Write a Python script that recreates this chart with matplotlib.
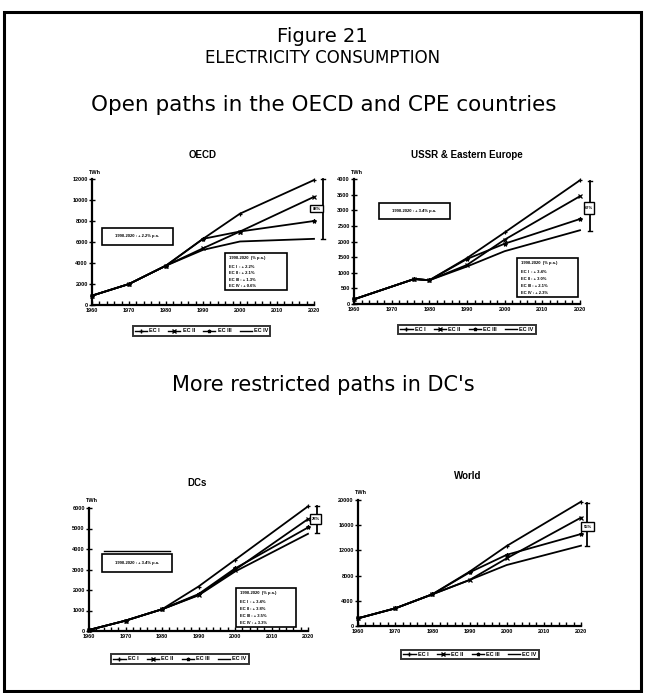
import matplotlib
matplotlib.use("Agg")
import matplotlib.pyplot as plt
from matplotlib.patches import Rectangle
from matplotlib.lines import Line2D

plt.rcParams['font.family'] = ['Liberation Sans', 'DejaVu Sans']

W, H = 646, 693
fig = plt.figure(figsize=(W / 100, H / 100), dpi=100)

# ---------------- data ----------------
series_names = ["EC I", "EC II", "EC III", "EC IV"]
hist_years = [1960, 1970, 1980]
proj_years = [1990, 2000, 2020]

oecd_hist = [890, 2000, 3750]
oecd_proj = {"EC I": [6300, 8700, 11900], "EC II": [5400, 7000, 10300],
             "EC III": [6300, 7000, 8000], "EC IV": [5250, 6050, 6300]}

ussr_hist_years = [1960, 1976, 1980]
ussr_hist = [150, 800, 760]
ussr_proj = {"EC I": [1470, 2290, 3960], "EC II": [1250, 2060, 3450],
             "EC III": [1440, 1930, 2720], "EC IV": [1200, 1690, 2360]}

dcs_hist = [50, 505, 1060]
dcs_proj = {"EC I": [2170, 3470, 6080], "EC II": [1760, 2980, 5460],
            "EC III": [1800, 3050, 5050], "EC IV": [1740, 2900, 4740]}

world_hist = [1220, 2800, 5030]
world_proj = {"EC I": [8620, 12700, 19730], "EC II": [7300, 10740, 17200],
              "EC III": [8500, 11300, 14600], "EC IV": [7300, 9680, 12750]}

x_ticks = [1960, 1970, 1980, 1990, 2000, 2010, 2020]

markers = {"EC I": "+", "EC II": "x", "EC III": "*", "EC IV": ""}

HEAD = ['DejaVu Sans']


def fx(x):
    return x / W


def fy(y):
    return 1 - y / H


def add_ax(l, r, t, b):
    return fig.add_axes([fx(l), fy(b), (r - l) / W, (b - t) / H])


def draw_panel(l, r, t, b, title, title_xy, hist_x, hist_y, proj, ymax, ystep,
               legend_box):
    ax = add_ax(l, r, t, b)
    for name in series_names:
        xs = hist_x + proj_years
        ys = hist_y + proj[name]
        ax.plot(xs, ys, color="black", lw=1.3, marker=markers[name], ms=3,
                mew=0.9, clip_on=False)
    ax.set_xlim(1960, 2020)
    ax.set_ylim(0, ymax)
    ax.set_xticks(x_ticks)
    ax.set_xticks(list(range(1962, 2020, 2)), minor=True)
    ax.set_yticks(list(range(0, ymax + 1, ystep)))
    ax.set_xticklabels([str(v) for v in x_ticks], fontsize=4, fontweight="bold")
    ax.set_yticklabels([str(v) for v in range(0, ymax + 1, ystep)], fontsize=4,
                       fontweight="bold")
    ax.tick_params(axis="x", which="both", direction="in", length=3, width=1,
                   pad=2)
    ax.tick_params(axis="y", direction="inout", length=4, width=1, pad=1)
    for s in ["top", "right"]:
        ax.spines[s].set_visible(False)
    for s in ["left", "bottom"]:
        ax.spines[s].set_linewidth(1.6)
    ax.patch.set_alpha(0)
    fig.text(fx(title_xy[0]), fy(title_xy[1]), title, fontsize=7,
             fontweight="bold", ha="center", va="center")
    fig.text(fx(l + 3), fy(t - 7), "TWh", fontsize=4, fontweight="bold",
             ha="center", va="center")
    # legend
    handles = [Line2D([], [], color="black", lw=1, marker=markers[n], ms=2.5)
               for n in series_names]
    lx0, ly0, lx1, ly1 = legend_box
    leg = fig.legend(handles, series_names, ncol=4, fontsize=4,
                     loc="center",
                     bbox_to_anchor=(fx((lx0 + lx1) / 2), fy((ly0 + ly1) / 2)),
                     frameon=True, fancybox=False, edgecolor="black",
                     handlelength=2.2, columnspacing=1.5, borderpad=0.4,
                     handletextpad=0.4, prop={"weight": "bold", "size": 4})
    leg.get_frame().set_linewidth(1.4)
    return ax


def box(x0, y0, x1, y1, lw=1.2, fc="white"):
    fig.patches.append(Rectangle((fx(x0), fy(y1)), (x1 - x0) / W, (y1 - y0) / H,
                                 transform=fig.transFigure, fill=True, fc=fc,
                                 ec="black", lw=lw, zorder=5))


def bracket(x, y0, y1, bx0, bx1, by0, by1, label):
    fig.add_artist(Line2D([fx(x), fx(x)], [fy(y0), fy(y1)], color="black",
                          lw=1.3, transform=fig.transFigure))
    for yy in (y0, y1):
        fig.add_artist(Line2D([fx(x - 2), fx(x + 2)], [fy(yy), fy(yy)],
                              color="black", lw=1.0, transform=fig.transFigure))
    box(bx0, by0, bx1, by1, lw=1.0)
    fig.text(fx((bx0 + bx1) / 2), fy((by0 + by1) / 2), label, fontsize=3,
             fontweight="bold", ha="center", va="center", zorder=6)


def rate_box(x0, y0, x1, y1, header, lines):
    box(x0, y0, x1, y1)
    fig.text(fx(x0 + 4), fy(y0 + 5), header, fontsize=3, fontweight="bold",
             ha="left", va="center", zorder=6)
    n = len(lines)
    for i, s in enumerate(lines):
        yy = y0 + 14 + i * (y1 - y0 - 18) / max(n - 1, 1)
        fig.text(fx(x0 + 4), fy(yy), s, fontsize=3, fontweight="bold",
                 ha="left", va="center", zorder=6)


# ---------------- outer frame and headings ----------------
fig.add_artist(Rectangle((fx(4), fy(691)), (641 - 4) / W, (691 - 12) / H,
                         transform=fig.transFigure, fill=False, ec="black",
                         lw=2.2))
fig.text(fx(322), fy(36), "Figure 21", fontsize=14, ha="center", va="center",
         family=HEAD)
fig.text(fx(323), fy(58), "ELECTRICITY CONSUMPTION", fontsize=12, ha="center",
         va="center", family=HEAD)
fig.text(fx(324), fy(105), "Open paths in the OECD and CPE countries",
         fontsize=15.5, ha="center", va="center", family=HEAD)
fig.text(fx(323), fy(385), "More restricted paths in DC's", fontsize=15,
         ha="center", va="center", family=HEAD)

# ---------------- panels ----------------
draw_panel(92, 314, 179, 305, "OECD", (203, 155), hist_years, oecd_hist,
           oecd_proj, 12000, 2000, (128, 324, 275, 338))
box(102, 228, 173, 245)
fig.text(fx(137), fy(236.5), "1990-2020 : + 2.2% p.a.", fontsize=3,
         fontweight="bold", ha="center", va="center", zorder=6)
rate_box(225, 253, 287, 290, "1990-2020  (% p.a.)",
         ["EC I  : + 2.2%", "EC II : + 2.1%", "EC III : + 1.3%", "EC IV : + 0.6%"])
bracket(323, 179, 239, 310, 323, 205, 212, "88%")

draw_panel(354, 580, 179, 304, "USSR & Eastern Europe", (467, 155),
           ussr_hist_years, ussr_hist, ussr_proj, 4000, 500,
           (393, 322, 541, 337))
box(379, 203, 450, 219)
fig.text(fx(414.5), fy(211), "1990-2020 : + 3.4% p.a.", fontsize=3,
         fontweight="bold", ha="center", va="center", zorder=6)
rate_box(517, 258, 578, 297, "1990-2020  (% p.a.)",
         ["EC I  : + 3.4%", "EC II : + 3.0%", "EC III : + 2.1%", "EC IV : + 2.3%"])
bracket(590, 181, 231, 584, 594, 202, 214, "67%")

draw_panel(89, 308, 508, 631, "DCs", (197, 483), hist_years, dcs_hist,
           dcs_proj, 6000, 1000, (95, 652, 265, 666))
box(102, 554, 172, 572)
fig.add_artist(Line2D([fx(104), fx(170)], [fy(551), fy(551)], color="black",
                      lw=1.0, transform=fig.transFigure))
fig.text(fx(137), fy(563), "1990-2020 : + 3.4% p.a.", fontsize=3,
         fontweight="bold", ha="center", va="center", zorder=6)
rate_box(236, 588, 296, 627, "1990-2020  (% p.a.)",
         ["EC I  : + 3.4%", "EC II : + 3.8%", "EC III : + 3.5%", "EC IV : + 3.3%"])
bracket(317, 506, 533, 310, 321, 514, 524, "28%")

draw_panel(358, 581, 500, 626, "World", (468, 476), hist_years, world_hist,
           world_proj, 20000, 4000, (382, 645, 558, 664))
bracket(587, 503, 546, 581, 594, 522, 531, "55%")

fig.savefig("out.png", dpi=100)
